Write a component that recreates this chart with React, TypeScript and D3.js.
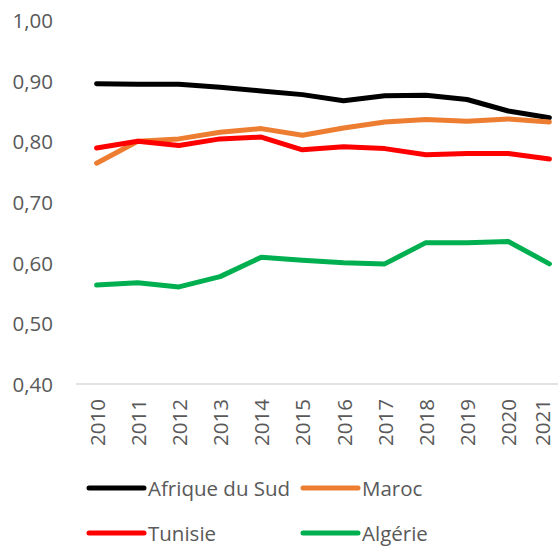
import React from 'react';
import * as d3 from 'd3';

const years = ['2010', '2011', '2012', '2013', '2014', '2015', '2016', '2017', '2018', '2019', '2020', '2021'];
const afriqueDuSud = [0.895, 0.894, 0.894, 0.889, 0.883, 0.877, 0.867, 0.875, 0.876, 0.869, 0.850, 0.839];
const maroc = [0.764, 0.800, 0.804, 0.815, 0.821, 0.810, 0.822, 0.832, 0.836, 0.833, 0.837, 0.832];
const tunisie = [0.789, 0.800, 0.793, 0.804, 0.807, 0.786, 0.791, 0.788, 0.778, 0.780, 0.780, 0.771];
const algerie = [0.563, 0.567, 0.560, 0.577, 0.609, 0.604, 0.600, 0.598, 0.633, 0.633, 0.635, 0.598];
const yTicks = [0.4, 0.5, 0.6, 0.7, 0.8, 0.9, 1.0];

const series = [
  { name: 'Afrique du Sud', values: afriqueDuSud, color: '#000000' },
  { name: 'Maroc', values: maroc, color: '#ED7D31' },
  { name: 'Tunisie', values: tunisie, color: '#FF0000' },
  { name: 'Algérie', values: algerie, color: '#00B050' },
];

const width = 558;
const height = 546;
const font = '"Open Sans", sans-serif';
const textColor = '#595959';

export default function App() {
  const x = d3.scaleBand<string>().domain(years).range([76, 570]);
  const y = d3.scaleLinear().domain([0.4, 1.0]).range([384, 20]);
  const cx = (yr: string) => (x(yr) ?? 0) + x.bandwidth() / 2;

  const line = d3
    .line<number>()
    .x((_, i) => cx(years[i]))
    .y((d) => y(d));

  // legend slots: two per row
  const legendPos = [
    { x: 89, y: 488 },
    { x: 303, y: 488 },
    { x: 89, y: 533 },
    { x: 303, y: 533 },
  ];

  return (
    <svg
      width={width}
      height={height}
      style={{ position: 'absolute', left: 0, top: 0, background: '#fff' }}
      fontFamily={font}
    >
      {/* bottom axis line */}
      <line x1={76} x2={570} y1={y(0.4)} y2={y(0.4)} stroke="#d9d9d9" strokeWidth={1.5} />

      {/* y labels */}
      {yTicks.map((t) => (
        <text
          key={t}
          x={53}
          y={y(t)}
          textAnchor="end"
          dominantBaseline="central"
          fontSize={20.5}
          fill={textColor}
        >
          {t.toFixed(2).replace('.', ',')}
        </text>
      ))}

      {/* x labels (last one kept inside the frame) */}
      {years.map((yr) => (
        <text
          key={yr}
          transform={`translate(${Math.min(cx(yr), width - 16)},399) rotate(-90)`}
          textAnchor="end"
          dominantBaseline="central"
          fontSize={20.5}
          fill={textColor}
        >
          {yr}
        </text>
      ))}

      {/* lines */}
      {series.map((s) => (
        <path
          key={s.name}
          d={line(s.values) || ''}
          fill="none"
          stroke={s.color}
          strokeWidth={5}
          strokeLinejoin="round"
          strokeLinecap="round"
        />
      ))}

      {/* legend */}
      {series.map((s, i) => {
        const p = legendPos[i];
        return (
          <g key={`lg-${s.name}`}>
            <line
              x1={p.x}
              x2={p.x + 55}
              y1={p.y}
              y2={p.y}
              stroke={s.color}
              strokeWidth={5}
              strokeLinecap="round"
            />
            <text
              x={p.x + 59}
              y={p.y}
              dominantBaseline="central"
              fontSize={20.5}
              fill={textColor}
            >
              {s.name}
            </text>
          </g>
        );
      })}
    </svg>
  );
}
